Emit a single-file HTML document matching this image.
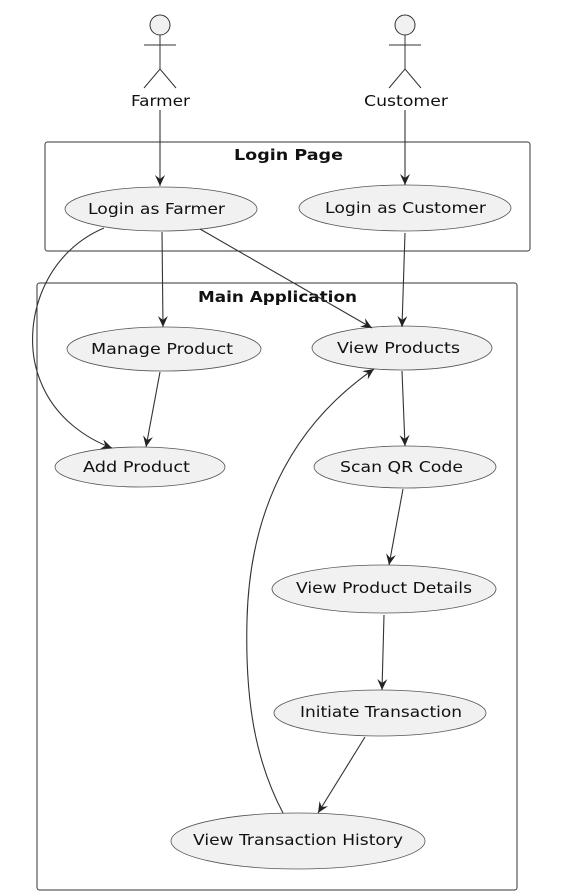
<!DOCTYPE html>
<html><head><meta charset="utf-8"><style>
html,body{margin:0;padding:0;background:#fff;}
svg{display:block;}
text{font-family:"DejaVu Sans","Liberation Sans",sans-serif;fill:#111;}
</style></head><body>
<svg width="577" height="895" viewBox="0 0 577 895" xmlns="http://www.w3.org/2000/svg">
<defs>
<marker id="a" viewBox="0 0 12 10" refX="11" refY="5" markerWidth="12" markerHeight="10" markerUnits="userSpaceOnUse" orient="auto">
<path d="M0,0 L11,5 L0,10 L4,5 Z" fill="#222"/>
</marker>
</defs>
<g stroke="#333" stroke-width="1" fill="none">
<circle cx="160" cy="25" r="10" fill="#f1f1f1"/>
<path d="M160,35 V69 M144,45 H176 M144,88 L160,69 L176,88"/>
<circle cx="405" cy="25" r="10" fill="#f1f1f1"/>
<path d="M405,35 V69 M389,45 H421 M389,88 L405,69 L421,88"/>
<rect x="45" y="142" width="485" height="109" rx="2.5"/>
<rect x="37" y="283" width="480" height="607" rx="2.5"/>
</g>
<g font-size="15">
<text x="131" y="106" textLength="59" lengthAdjust="spacingAndGlyphs">Farmer</text>
<text x="364" y="106" textLength="84" lengthAdjust="spacingAndGlyphs">Customer</text>
<text x="234" y="160" textLength="109" lengthAdjust="spacingAndGlyphs" font-weight="bold">Login Page</text>
<text x="198" y="302" textLength="159" lengthAdjust="spacingAndGlyphs" font-weight="bold">Main Application</text>
</g>
<g fill="#f1f1f1" stroke="#555" stroke-width="0.8">
<ellipse cx="161" cy="209" rx="96" ry="22"/>
<ellipse cx="405" cy="208" rx="106" ry="23"/>
<ellipse cx="164" cy="349" rx="97" ry="22"/>
<ellipse cx="402" cy="348" rx="90" ry="22"/>
<ellipse cx="140" cy="467" rx="85" ry="20"/>
<ellipse cx="405" cy="467" rx="91" ry="21"/>
<ellipse cx="384" cy="589" rx="112" ry="24"/>
<ellipse cx="380" cy="713" rx="106" ry="23"/>
<ellipse cx="298" cy="841" rx="127" ry="28"/>
</g>
<g font-size="15">
<text x="88" y="214" textLength="137" lengthAdjust="spacingAndGlyphs">Login as Farmer</text>
<text x="325" y="213" textLength="161" lengthAdjust="spacingAndGlyphs">Login as Customer</text>
<text x="91" y="354" textLength="142" lengthAdjust="spacingAndGlyphs">Manage Product</text>
<text x="337" y="353" textLength="123" lengthAdjust="spacingAndGlyphs">View Products</text>
<text x="83" y="472" textLength="107" lengthAdjust="spacingAndGlyphs">Add Product</text>
<text x="340" y="472" textLength="123" lengthAdjust="spacingAndGlyphs">Scan QR Code</text>
<text x="296" y="593" textLength="176" lengthAdjust="spacingAndGlyphs">View Product Details</text>
<text x="300" y="717" textLength="162" lengthAdjust="spacingAndGlyphs">Initiate Transaction</text>
<text x="193" y="845" textLength="210" lengthAdjust="spacingAndGlyphs">View Transaction History</text>
</g>
<g stroke="#333" stroke-width="1.1" fill="none" marker-end="url(#a)">
<path d="M160,110 V186"/>
<path d="M405,110 V185"/>
<path d="M104,228 C40,255 20,330 40,380 C55,420 90,440 112,448"/>
<path d="M162,232 L163,327"/>
<path d="M200,229 L372,328"/>
<path d="M405,233 L402,327"/>
<path d="M160,372 L146,447"/>
<path d="M402,371 L405,446"/>
<path d="M403,489 L389,565"/>
<path d="M384,615 L382,690"/>
<path d="M365,737 L318,813"/>
<path d="M283,813 C255,760 245,700 247,620 C250,500 300,420 374,369"/>
</g>
</svg>
</body></html>
